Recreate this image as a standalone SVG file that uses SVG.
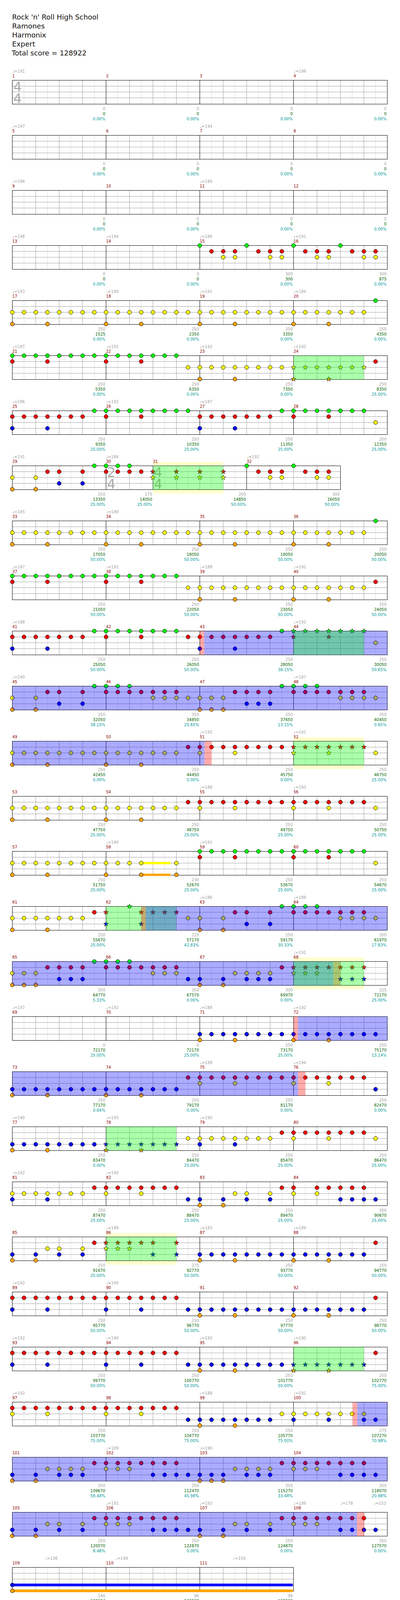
<svg xmlns="http://www.w3.org/2000/svg" width="1024" height="4153" viewBox="0 0 1024 4153">
<style>
text{font-family:"DejaVu Sans","Liberation Sans",sans-serif}
.h{font-size:18px;fill:#111}
.tp{font-size:10px;fill:#a0a0a0}
.mn{font-size:10px;fill:#8b0000}
.s1,.s2,.s3{font-size:10px;text-anchor:end}
.s1{fill:#a0a0a0}.s2{fill:#006400}.s3{fill:#009999}
.ts{font-size:34px;fill:#aaa}
.l8{stroke:#dcdcdc;fill:none}
.l4{stroke:#a0a0a0;fill:none}
.bar,.bd{stroke:#000;fill:none}
.nt{stroke:#000;stroke-width:1}
.ob{fill:#00f;fill-opacity:.33}
.og{fill:#0f0;fill-opacity:.33}
.op{fill:#f00;fill-opacity:.33}
.yb{fill:#ffc}
</style>
<defs>
<g id="m4"><path class="l8" d="M30 0V61M90 0V61M150 0V61M210 0V61"/><path class="l4" d="M60 0V61M120 0V61M180 0V61"/></g>
<g id="st4"><rect width="960" height="61" fill="#fff"/><use href="#m4"/><use href="#m4" x="240"/><use href="#m4" x="480"/><use href="#m4" x="720"/><path class="l4" d="M0 15H960M0 30H960M0 45H960"/><path class="bar" d="M240 0V61M480 0V61M720 0V61"/><rect class="bd" width="960" height="61"/></g>
<circle id="g" class="nt" r="5" fill="#00ff00"/>
<circle id="r" class="nt" cy="15" r="5" fill="#ff0000"/>
<circle id="y" class="nt" cy="30" r="5" fill="#ffff00"/>
<circle id="b" class="nt" cy="45" r="5" fill="#0000ff"/>
<circle id="o" class="nt" cy="60" r="5" fill="#ffa500"/>
<g id="g2"><use href="#g"/><use href="#g" x="30"/></g><g id="g4"><use href="#g2"/><use href="#g2" x="60"/></g><g id="g8"><use href="#g4"/><use href="#g4" x="120"/></g>
<g id="r2"><use href="#r"/><use href="#r" x="30"/></g><g id="r4"><use href="#r2"/><use href="#r2" x="60"/></g><g id="r8"><use href="#r4"/><use href="#r4" x="120"/></g>
<g id="y2"><use href="#y"/><use href="#y" x="30"/></g><g id="y4"><use href="#y2"/><use href="#y2" x="60"/></g><g id="y8"><use href="#y4"/><use href="#y4" x="120"/></g>
<g id="b2"><use href="#b"/><use href="#b" x="30"/></g><g id="b4"><use href="#b2"/><use href="#b2" x="60"/></g><g id="b8"><use href="#b4"/><use href="#b4" x="120"/></g>
<polygon id="S" points="0,-6.5 1.53,-2.1 6.18,-2.01 2.47,0.8 3.82,5.26 0,2.6 -3.82,5.26 -2.47,0.8 -6.18,-2.01 -1.53,-2.1" stroke="#000" stroke-width=".8"/>
<use id="sg" href="#S" fill="#00ff00"/>
<use id="sr" href="#S" y="15" fill="#ff0000"/>
<use id="sy" href="#S" y="30" fill="#ffff00"/>
<use id="sb" href="#S" y="45" fill="#0000ff"/>
<use id="so" href="#S" y="60" fill="#ffa500"/>
<g id="p17"><use href="#y8"/><use href="#y8" x="240"/><use href="#y8" x="480"/><use href="#y4" x="720"/><use href="#y2" x="840"/><use href="#y" x="900"/><use href="#g" x="930"/><use href="#o"/><use href="#o" x="90"/><use href="#o" x="240"/><use href="#o" x="330"/><use href="#o" x="480"/><use href="#o" x="570"/><use href="#o" x="720"/><use href="#o" x="810"/></g>
</defs>
<rect width="1024" height="4153" fill="#fff"/>
<g id="header">
<text class="h" x="31" y="49.5">Rock 'n' Roll High School</text>
<text class="h" x="31" y="72.5">Ramones</text>
<text class="h" x="31" y="95.5">Harmonix</text>
<text class="h" x="31" y="118.5">Expert</text>
<text class="h" x="30" y="141.5">Total score = 128922</text>
</g>

<g id="row1" transform="translate(31.5,205.5)">
<use href="#st4"/>
<text class="ts" x="2.5" y="28">4</text><text class="ts" x="2.5" y="58">4</text>
<text class="tp" x="0" y="-20">♩=191</text><text class="tp" x="720" y="-20">♩=186</text>
<text class="mn" x="0" y="-7.5">1</text><text class="mn" x="240" y="-7.5">2</text><text class="mn" x="480" y="-7.5">3</text><text class="mn" x="720" y="-7.5">4</text>
<text class="s1" x="238" y="76">0</text><text class="s2" x="238" y="89.5">0</text><text class="s3" x="238" y="102.5">0.00%</text>
<text class="s1" x="478" y="76">0</text><text class="s2" x="478" y="89.5">0</text><text class="s3" x="478" y="102.5">0.00%</text>
<text class="s1" x="718" y="76">0</text><text class="s2" x="718" y="89.5">0</text><text class="s3" x="718" y="102.5">0.00%</text>
<text class="s1" x="958" y="76">0</text><text class="s2" x="958" y="89.5">0</text><text class="s3" x="958" y="102.5">0.00%</text>
</g>

<g id="row5" transform="translate(31.5,346.5)">
<use href="#st4"/>
<text class="tp" x="0" y="-20">♩=197</text><text class="tp" x="480" y="-20">♩=194</text>
<text class="mn" x="0" y="-7.5">5</text><text class="mn" x="240" y="-7.5">6</text><text class="mn" x="480" y="-7.5">7</text><text class="mn" x="720" y="-7.5">8</text>
<text class="s1" x="238" y="76">0</text><text class="s2" x="238" y="89.5">0</text><text class="s3" x="238" y="102.5">0.00%</text>
<text class="s1" x="478" y="76">0</text><text class="s2" x="478" y="89.5">0</text><text class="s3" x="478" y="102.5">0.00%</text>
<text class="s1" x="718" y="76">0</text><text class="s2" x="718" y="89.5">0</text><text class="s3" x="718" y="102.5">0.00%</text>
<text class="s1" x="958" y="76">0</text><text class="s2" x="958" y="89.5">0</text><text class="s3" x="958" y="102.5">0.00%</text>
</g>

<g id="row9" transform="translate(31.5,487.5)">
<use href="#st4"/>
<text class="tp" x="0" y="-20">♩=196</text><text class="tp" x="480" y="-20">♩=189</text>
<text class="mn" x="0" y="-7.5">9</text><text class="mn" x="240" y="-7.5">10</text><text class="mn" x="480" y="-7.5">11</text><text class="mn" x="720" y="-7.5">12</text>
<text class="s1" x="238" y="76">0</text><text class="s2" x="238" y="89.5">0</text><text class="s3" x="238" y="102.5">0.00%</text>
<text class="s1" x="478" y="76">0</text><text class="s2" x="478" y="89.5">0</text><text class="s3" x="478" y="102.5">0.00%</text>
<text class="s1" x="718" y="76">0</text><text class="s2" x="718" y="89.5">0</text><text class="s3" x="718" y="102.5">0.00%</text>
<text class="s1" x="958" y="76">0</text><text class="s2" x="958" y="89.5">0</text><text class="s3" x="958" y="102.5">0.00%</text>
</g>

<g id="row13" transform="translate(31.5,628.5)">
<use href="#st4"/>
<use href="#g" x="480"/><use href="#g" x="600"/><use href="#g" x="720"/><use href="#g" x="840"/>
<use href="#r" x="510"/><use href="#r" x="540"/><use href="#r" x="570"/><use href="#r" x="630"/><use href="#r" x="660"/><use href="#r" x="690"/><use href="#r" x="750"/><use href="#r" x="780"/><use href="#r" x="810"/><use href="#r" x="870"/><use href="#r" x="900"/><use href="#r" x="930"/>
<use href="#y2" x="540"/><use href="#y2" x="660"/><use href="#y2" x="780"/><use href="#y2" x="900"/>
<text class="tp" x="0" y="-20">♩=198</text><text class="tp" x="240" y="-20">♩=194</text><text class="tp" x="480" y="-20">♩=186</text><text class="tp" x="720" y="-20">♩=191</text>
<text class="mn" x="0" y="-7.5">13</text><text class="mn" x="240" y="-7.5">14</text><text class="mn" x="480" y="-7.5">15</text><text class="mn" x="720" y="-7.5">16</text>
<text class="s1" x="238" y="76">0</text><text class="s2" x="238" y="89.5">0</text><text class="s3" x="238" y="102.5">0.00%</text>
<text class="s1" x="478" y="76">0</text><text class="s2" x="478" y="89.5">0</text><text class="s3" x="478" y="102.5">0.00%</text>
<text class="s1" x="718" y="76">300</text><text class="s2" x="718" y="89.5">300</text><text class="s3" x="718" y="102.5">0.00%</text>
<text class="s1" x="958" y="76">300</text><text class="s2" x="958" y="89.5">875</text><text class="s3" x="958" y="102.5">0.00%</text>
</g>

<g id="row17" transform="translate(31.5,769.5)">
<use href="#st4"/>
<use href="#p17"/>
<text class="tp" x="0" y="-20">♩=193</text><text class="tp" x="240" y="-20">♩=190</text><text class="tp" x="480" y="-20">♩=191</text><text class="tp" x="720" y="-20">♩=189</text>
<text class="mn" x="0" y="-7.5">17</text><text class="mn" x="240" y="-7.5">18</text><text class="mn" x="480" y="-7.5">19</text><text class="mn" x="720" y="-7.5">20</text>
<text class="s1" x="238" y="76">250</text><text class="s2" x="238" y="89.5">1525</text><text class="s3" x="238" y="102.5">0.00%</text>
<text class="s1" x="478" y="76">250</text><text class="s2" x="478" y="89.5">2350</text><text class="s3" x="478" y="102.5">0.00%</text>
<text class="s1" x="718" y="76">250</text><text class="s2" x="718" y="89.5">3350</text><text class="s3" x="718" y="102.5">0.00%</text>
<text class="s1" x="958" y="76">250</text><text class="s2" x="958" y="89.5">4350</text><text class="s3" x="958" y="102.5">0.00%</text>
</g>

<g id="row21" transform="translate(31.5,910.5)">
<use href="#st4"/>
<use href="#g8"/><use href="#g4" x="240"/><use href="#g2" x="360"/><use href="#g" x="420"/>
<use href="#r"/><use href="#r" x="90"/><use href="#r" x="240"/><use href="#r" x="330"/><use href="#r" x="930"/>
<use href="#y" x="450"/><use href="#y8" x="480"/>
<use href="#o" x="480"/><use href="#o" x="570"/>
<use href="#sy" x="720"/><use href="#sy" x="750"/><use href="#sy" x="780"/><use href="#sy" x="810"/><use href="#sy" x="840"/><use href="#sy" x="870"/><use href="#sy" x="900"/>
<use href="#so" x="720"/><use href="#so" x="810"/>
<rect class="og" x="720" width="180" height="61"/>
<text class="tp" x="0" y="-20">♩=187</text><text class="tp" x="240" y="-20">♩=191</text><text class="tp" x="480" y="-20">♩=192</text><text class="tp" x="720" y="-20">♩=193</text>
<text class="mn" x="0" y="-7.5">21</text><text class="mn" x="240" y="-7.5">22</text><text class="mn" x="480" y="-7.5">23</text><text class="mn" x="720" y="-7.5">24</text>
<text class="s1" x="238" y="76">250</text><text class="s2" x="238" y="89.5">5350</text><text class="s3" x="238" y="102.5">0.00%</text>
<text class="s1" x="478" y="76">250</text><text class="s2" x="478" y="89.5">6350</text><text class="s3" x="478" y="102.5">0.00%</text>
<text class="s1" x="718" y="76">250</text><text class="s2" x="718" y="89.5">7350</text><text class="s3" x="718" y="102.5">0.00%</text>
<text class="s1" x="958" y="76">250</text><text class="s2" x="958" y="89.5">8350</text><text class="s3" x="958" y="102.5">25.00%</text>
</g>

<g id="row25" transform="translate(31.5,1051.5)">
<use href="#st4"/>
<use href="#r4"/><use href="#r2" x="120"/><use href="#r" x="180"/><use href="#r" x="240"/><use href="#r" x="330"/><use href="#r4" x="480"/><use href="#r2" x="600"/><use href="#r" x="660"/><use href="#r" x="720"/><use href="#r" x="810"/>
<use href="#g" x="210"/><use href="#g8" x="240"/><use href="#g8" x="690"/>
<use href="#b"/><use href="#b" x="90"/><use href="#b" x="480"/><use href="#b" x="570"/>
<use href="#y" x="930"/>
<text class="tp" x="0" y="-20">♩=186</text><text class="tp" x="240" y="-20">♩=192</text><text class="tp" x="480" y="-20">♩=187</text>
<text class="mn" x="0" y="-7.5">25</text><text class="mn" x="240" y="-7.5">26</text><text class="mn" x="480" y="-7.5">27</text><text class="mn" x="720" y="-7.5">28</text>
<text class="s1" x="238" y="76">250</text><text class="s2" x="238" y="89.5">9350</text><text class="s3" x="238" y="102.5">25.00%</text>
<text class="s1" x="478" y="76">250</text><text class="s2" x="478" y="89.5">10350</text><text class="s3" x="478" y="102.5">25.00%</text>
<text class="s1" x="718" y="76">250</text><text class="s2" x="718" y="89.5">11350</text><text class="s3" x="718" y="102.5">25.00%</text>
<text class="s1" x="958" y="76">250</text><text class="s2" x="958" y="89.5">12350</text><text class="s3" x="958" y="102.5">25.00%</text>
</g>

<g id="row29" transform="translate(31.5,1192.5)">
<rect class="yb" x="360" y="-10" width="180" height="81"/>
<rect width="840" height="61" fill="#fff"/>
<use href="#m4"/>
<path class="l8" d="M270 0V61M330 0V61"/><path class="l4" d="M300 0V61"/>
<use href="#m4" x="360"/><use href="#m4" x="600"/>
<path class="l4" d="M0 15H840M0 30H840M0 45H840"/>
<path class="bar" d="M240 0V61M360 0V61M600 0V61"/>
<rect class="bd" width="840" height="61"/>
<text class="ts" x="242.5" y="28">2</text><text class="ts" x="242.5" y="58">4</text>
<text class="ts" x="362.5" y="28">4</text><text class="ts" x="362.5" y="58">4</text>
<use href="#y"/><use href="#y" x="60"/><use href="#o"/><use href="#o" x="60"/>
<use href="#r" x="90"/><use href="#r" x="120"/><use href="#r" x="180"/><use href="#r" x="240"/><use href="#r" x="270"/><use href="#r" x="300"/><use href="#r" x="330"/>
<use href="#b" x="120"/><use href="#b" x="180"/>
<use href="#g" x="210"/><use href="#g" x="240"/><use href="#g" x="270"/><use href="#g" x="300"/>
<use href="#sr" x="360"/><use href="#sr" x="420"/><use href="#sr" x="480"/><use href="#sr" x="540"/>
<use href="#sy" x="360"/><use href="#sy" x="420"/><use href="#sy" x="480"/><use href="#sy" x="540"/>
<use href="#g" x="600"/><use href="#g" x="720"/>
<use href="#r" x="630"/><use href="#r" x="660"/><use href="#r" x="690"/><use href="#r" x="750"/><use href="#r" x="780"/><use href="#r" x="810"/>
<use href="#y2" x="660"/><use href="#y2" x="780"/>
<rect class="og" x="360" width="180" height="61"/>
<text class="tp" x="0" y="-20">♩=191</text><text class="tp" x="240" y="-20">♩=184</text><text class="tp" x="600" y="-20">♩=192</text>
<text class="mn" x="0" y="-7.5">29</text><text class="mn" x="240" y="-7.5">30</text><text class="mn" x="360" y="-7.5">31</text><text class="mn" x="600" y="-7.5">32</text>
<text class="s1" x="238" y="76">250</text><text class="s2" x="238" y="89.5">13350</text><text class="s3" x="238" y="102.5">25.00%</text>
<text class="s1" x="358" y="76">175</text><text class="s2" x="358" y="89.5">14050</text><text class="s3" x="358" y="102.5">25.00%</text>
<text class="s1" x="598" y="76">200</text><text class="s2" x="598" y="89.5">14850</text><text class="s3" x="598" y="102.5">50.00%</text>
<text class="s1" x="838" y="76">300</text><text class="s2" x="838" y="89.5">16050</text><text class="s3" x="838" y="102.5">50.00%</text>
</g>

<g id="row33" transform="translate(31.5,1333.5)">
<use href="#st4"/>
<use href="#p17"/>
<text class="tp" x="0" y="-20">♩=185</text><text class="tp" x="240" y="-20">♩=189</text>
<text class="mn" x="0" y="-7.5">33</text><text class="mn" x="240" y="-7.5">34</text><text class="mn" x="480" y="-7.5">35</text><text class="mn" x="720" y="-7.5">36</text>
<text class="s1" x="238" y="76">250</text><text class="s2" x="238" y="89.5">17050</text><text class="s3" x="238" y="102.5">50.00%</text>
<text class="s1" x="478" y="76">250</text><text class="s2" x="478" y="89.5">18050</text><text class="s3" x="478" y="102.5">50.00%</text>
<text class="s1" x="718" y="76">250</text><text class="s2" x="718" y="89.5">19050</text><text class="s3" x="718" y="102.5">50.00%</text>
<text class="s1" x="958" y="76">250</text><text class="s2" x="958" y="89.5">20050</text><text class="s3" x="958" y="102.5">50.00%</text>
</g>

<g id="row37" transform="translate(31.5,1474.5)">
<use href="#st4"/>
<use href="#g8"/><use href="#g4" x="240"/><use href="#g2" x="360"/><use href="#g" x="420"/>
<use href="#r"/><use href="#r" x="90"/><use href="#r" x="240"/><use href="#r" x="330"/><use href="#r" x="930"/>
<use href="#y" x="450"/><use href="#y8" x="480"/><use href="#y4" x="720"/><use href="#y2" x="840"/><use href="#y" x="900"/>
<use href="#o" x="480"/><use href="#o" x="570"/><use href="#o" x="720"/><use href="#o" x="810"/>
<text class="tp" x="0" y="-20">♩=187</text><text class="tp" x="240" y="-20">♩=192</text><text class="tp" x="480" y="-20">♩=188</text><text class="tp" x="720" y="-20">♩=192</text>
<text class="mn" x="0" y="-7.5">37</text><text class="mn" x="240" y="-7.5">38</text><text class="mn" x="480" y="-7.5">39</text><text class="mn" x="720" y="-7.5">40</text>
<text class="s1" x="238" y="76">250</text><text class="s2" x="238" y="89.5">21050</text><text class="s3" x="238" y="102.5">50.00%</text>
<text class="s1" x="478" y="76">250</text><text class="s2" x="478" y="89.5">22050</text><text class="s3" x="478" y="102.5">50.00%</text>
<text class="s1" x="718" y="76">250</text><text class="s2" x="718" y="89.5">23050</text><text class="s3" x="718" y="102.5">50.00%</text>
<text class="s1" x="958" y="76">250</text><text class="s2" x="958" y="89.5">24050</text><text class="s3" x="958" y="102.5">50.00%</text>
</g>

<g id="row41" transform="translate(31.5,1615.5)">
<use href="#st4"/>
<use href="#r4"/><use href="#r2" x="120"/><use href="#r" x="180"/><use href="#r" x="240"/><use href="#r" x="330"/><use href="#r" x="450"/><use href="#r" x="480"/><use href="#r4" x="510"/><use href="#r2" x="630"/>
<use href="#b"/><use href="#b" x="90"/><use href="#b" x="480"/><use href="#b" x="570"/>
<use href="#g8" x="210"/><use href="#g" x="690"/>
<use href="#sg" x="720"/><use href="#sg" x="750"/><use href="#sg" x="780"/><use href="#sg" x="810"/><use href="#sg" x="840"/><use href="#sg" x="870"/><use href="#sg" x="900"/>
<use href="#sr" x="720"/><use href="#sr" x="810"/>
<use href="#y" x="930"/>
<rect class="op" x="480" width="11.5" height="61"/>
<rect class="ob" x="491.5" width="468.5" height="61"/>
<rect class="og" x="720" width="180" height="61"/>
<text class="tp" x="0" y="-20">♩=188</text><text class="tp" x="720" y="-20">♩=192</text>
<text class="mn" x="0" y="-7.5">41</text><text class="mn" x="240" y="-7.5">42</text><text class="mn" x="480" y="-7.5">43</text><text class="mn" x="720" y="-7.5">44</text>
<text class="s1" x="238" y="76">250</text><text class="s2" x="238" y="89.5">25050</text><text class="s3" x="238" y="102.5">50.00%</text>
<text class="s1" x="478" y="76">250</text><text class="s2" x="478" y="89.5">26050</text><text class="s3" x="478" y="102.5">50.00%</text>
<text class="s1" x="718" y="76">250</text><text class="s2" x="718" y="89.5">28050</text><text class="s3" x="718" y="102.5">38.15%</text>
<text class="s1" x="958" y="76">250</text><text class="s2" x="958" y="89.5">30050</text><text class="s3" x="958" y="102.5">50.65%</text>
</g>

<g id="row45" transform="translate(31.5,1756.5)">
<use href="#st4"/>
<use href="#g" x="210"/><use href="#g" x="240"/><use href="#g" x="270"/><use href="#g" x="300"/><use href="#g" x="690"/><use href="#g" x="720"/><use href="#g" x="750"/><use href="#g" x="780"/>
<use href="#r" x="90"/><use href="#r" x="120"/><use href="#r" x="180"/><use href="#r4" x="240"/><use href="#r2" x="360"/><use href="#r" x="420"/><use href="#r4" x="570"/><use href="#r4" x="720"/><use href="#r2" x="840"/><use href="#r" x="900"/>
<use href="#y"/><use href="#y" x="60"/><use href="#y4" x="360"/><use href="#y2" x="480"/><use href="#y" x="540"/><use href="#y4" x="840"/>
<use href="#b" x="120"/><use href="#b" x="180"/><use href="#b" x="600"/><use href="#b" x="630"/><use href="#b" x="660"/>
<use href="#o"/><use href="#o" x="60"/><use href="#o" x="480"/><use href="#o" x="510"/><use href="#o" x="540"/>
<rect class="ob" width="960" height="61"/>
<text class="tp" x="0" y="-20">♩=190</text><text class="tp" x="720" y="-20">♩=187</text>
<text class="mn" x="0" y="-7.5">45</text><text class="mn" x="240" y="-7.5">46</text><text class="mn" x="480" y="-7.5">47</text><text class="mn" x="720" y="-7.5">48</text>
<text class="s1" x="238" y="76">250</text><text class="s2" x="238" y="89.5">32050</text><text class="s3" x="238" y="102.5">38.15%</text>
<text class="s1" x="478" y="76">350</text><text class="s2" x="478" y="89.5">34850</text><text class="s3" x="478" y="102.5">25.65%</text>
<text class="s1" x="718" y="76">350</text><text class="s2" x="718" y="89.5">37650</text><text class="s3" x="718" y="102.5">13.15%</text>
<text class="s1" x="958" y="76">350</text><text class="s2" x="958" y="89.5">40450</text><text class="s3" x="958" y="102.5">0.65%</text>
</g>

<g id="row49" transform="translate(31.5,1897.5)">
<rect class="yb" x="720" y="-10" width="180" height="81"/>
<use href="#st4"/>
<use href="#y8"/><use href="#y4" x="240"/><use href="#y2" x="360"/><use href="#y" x="420"/><use href="#y" x="480"/><use href="#y" x="570"/><use href="#y" x="930"/>
<use href="#r" x="450"/><use href="#r" x="480"/><use href="#r4" x="510"/><use href="#r2" x="630"/><use href="#r" x="690"/>
<use href="#sr" x="720"/><use href="#sr" x="750"/><use href="#sr" x="780"/><use href="#sr" x="810"/><use href="#sr" x="840"/><use href="#sr" x="870"/><use href="#sr" x="900"/>
<use href="#sy" x="720"/><use href="#sy" x="810"/>
<use href="#o"/><use href="#o" x="90"/><use href="#o" x="240"/><use href="#o" x="330"/>
<rect class="ob" width="492" height="61"/>
<rect class="op" x="492" width="18" height="61"/>
<rect class="og" x="720" width="180" height="61"/>
<text class="tp" x="480" y="-20">♩=192</text><text class="tp" x="720" y="-20">♩=191</text>
<text class="mn" x="0" y="-7.5">49</text><text class="mn" x="240" y="-7.5">50</text><text class="mn" x="480" y="-7.5">51</text><text class="mn" x="720" y="-7.5">52</text>
<text class="s1" x="238" y="76">250</text><text class="s2" x="238" y="89.5">42450</text><text class="s3" x="238" y="102.5">0.00%</text>
<text class="s1" x="478" y="76">250</text><text class="s2" x="478" y="89.5">44450</text><text class="s3" x="478" y="102.5">0.00%</text>
<text class="s1" x="718" y="76">250</text><text class="s2" x="718" y="89.5">45750</text><text class="s3" x="718" y="102.5">0.00%</text>
<text class="s1" x="958" y="76">250</text><text class="s2" x="958" y="89.5">46750</text><text class="s3" x="958" y="102.5">25.00%</text>
</g>

<g id="row53" transform="translate(31.5,2038.5)">
<use href="#st4"/>
<use href="#y8"/><use href="#y4" x="240"/><use href="#y2" x="360"/><use href="#y" x="420"/><use href="#y" x="480"/><use href="#y" x="570"/><use href="#y" x="720"/><use href="#y" x="810"/><use href="#y" x="930"/>
<use href="#r" x="450"/><use href="#r8" x="480"/><use href="#r4" x="720"/><use href="#r2" x="840"/><use href="#r" x="900"/>
<use href="#o"/><use href="#o" x="90"/><use href="#o" x="240"/><use href="#o" x="330"/>
<text class="tp" x="480" y="-20">♩=188</text><text class="tp" x="720" y="-20">♩=193</text>
<text class="mn" x="0" y="-7.5">53</text><text class="mn" x="240" y="-7.5">54</text><text class="mn" x="480" y="-7.5">55</text><text class="mn" x="720" y="-7.5">56</text>
<text class="s1" x="238" y="76">250</text><text class="s2" x="238" y="89.5">47750</text><text class="s3" x="238" y="102.5">25.00%</text>
<text class="s1" x="478" y="76">250</text><text class="s2" x="478" y="89.5">48750</text><text class="s3" x="478" y="102.5">25.00%</text>
<text class="s1" x="718" y="76">250</text><text class="s2" x="718" y="89.5">49750</text><text class="s3" x="718" y="102.5">25.00%</text>
<text class="s1" x="958" y="76">250</text><text class="s2" x="958" y="89.5">50750</text><text class="s3" x="958" y="102.5">25.00%</text>
</g>

<g id="row57" transform="translate(31.5,2179.5)">
<use href="#st4"/>
<rect x="330" y="27" width="75" height="6" fill="#ff0"/>
<rect x="330" y="57" width="75" height="6" fill="#ffa500"/>
<use href="#y8"/><use href="#y4" x="240"/><use href="#y" x="420"/><use href="#y" x="930"/>
<use href="#o"/><use href="#o" x="90"/><use href="#o" x="240"/><use href="#o" x="330"/><use href="#o" x="420"/>
<use href="#g8" x="480"/><use href="#g4" x="720"/><use href="#g2" x="840"/><use href="#g" x="900"/>
<use href="#r" x="480"/><use href="#r" x="570"/><use href="#r" x="720"/><use href="#r" x="810"/>
<text class="tp" x="240" y="-20">♩=190</text><text class="tp" x="480" y="-20">♩=191</text>
<text class="mn" x="0" y="-7.5">57</text><text class="mn" x="240" y="-7.5">58</text><text class="mn" x="480" y="-7.5">59</text><text class="mn" x="720" y="-7.5">60</text>
<text class="s1" x="238" y="76">250</text><text class="s2" x="238" y="89.5">51750</text><text class="s3" x="238" y="102.5">25.00%</text>
<text class="s1" x="478" y="76">230</text><text class="s2" x="478" y="89.5">52670</text><text class="s3" x="478" y="102.5">25.00%</text>
<text class="s1" x="718" y="76">250</text><text class="s2" x="718" y="89.5">53670</text><text class="s3" x="718" y="102.5">25.00%</text>
<text class="s1" x="958" y="76">250</text><text class="s2" x="958" y="89.5">54670</text><text class="s3" x="958" y="102.5">25.00%</text>
</g>

<g id="row61" transform="translate(31.5,2320.5)">
<use href="#st4"/>
<use href="#y4"/><use href="#y2" x="120"/><use href="#y" x="180"/>
<use href="#r" x="210"/><use href="#o"/><use href="#o" x="90"/>
<use href="#sr" x="240"/><use href="#sr" x="330"/><use href="#sr" x="360"/><use href="#sr" x="390"/><use href="#sr" x="420"/>
<use href="#sb" x="240"/><use href="#sb" x="330"/><use href="#sg" x="300"/>
<use href="#y" x="450"/><use href="#y" x="480"/><use href="#y" x="540"/><use href="#y4" x="840"/>
<use href="#r" x="570"/><use href="#r" x="600"/><use href="#r" x="660"/><use href="#r4" x="720"/><use href="#r2" x="840"/><use href="#r" x="900"/>
<use href="#b" x="600"/><use href="#b" x="660"/>
<use href="#g4" x="690"/>
<use href="#o" x="480"/><use href="#o" x="540"/>
<rect class="og" x="240" width="180" height="61"/>
<rect class="op" x="330" width="11.5" height="61"/>
<rect class="ob" x="341.5" width="618.5" height="61"/>
<text class="tp" x="480" y="-20">♩=186</text><text class="tp" x="720" y="-20">♩=189</text>
<text class="mn" x="0" y="-7.5">61</text><text class="mn" x="240" y="-7.5">62</text><text class="mn" x="480" y="-7.5">63</text><text class="mn" x="720" y="-7.5">64</text>
<text class="s1" x="238" y="76">250</text><text class="s2" x="238" y="89.5">55670</text><text class="s3" x="238" y="102.5">25.00%</text>
<text class="s1" x="478" y="76">225</text><text class="s2" x="478" y="89.5">57170</text><text class="s3" x="478" y="102.5">42.83%</text>
<text class="s1" x="718" y="76">250</text><text class="s2" x="718" y="89.5">59170</text><text class="s3" x="718" y="102.5">30.33%</text>
<text class="s1" x="958" y="76">350</text><text class="s2" x="958" y="89.5">61970</text><text class="s3" x="958" y="102.5">17.83%</text>
</g>

<g id="row65" transform="translate(31.5,2461.5)">
<rect class="yb" x="720" y="-10" width="180" height="81"/>
<use href="#st4"/>
<use href="#g" x="210"/><use href="#g" x="240"/><use href="#g" x="270"/><use href="#g" x="300"/>
<use href="#r" x="90"/><use href="#r" x="120"/><use href="#r" x="150"/><use href="#r" x="180"/><use href="#r4" x="240"/><use href="#r2" x="360"/><use href="#r" x="420"/><use href="#r" x="690"/>
<use href="#y"/><use href="#y" x="30"/><use href="#y" x="60"/><use href="#y" x="360"/><use href="#y" x="390"/><use href="#y" x="420"/><use href="#y4" x="570"/>
<use href="#b" x="120"/><use href="#b" x="150"/><use href="#b" x="180"/><use href="#b" x="450"/><use href="#b" x="480"/><use href="#b" x="540"/><use href="#b" x="600"/><use href="#b" x="630"/><use href="#b" x="660"/>
<use href="#o"/><use href="#o" x="30"/><use href="#o" x="60"/><use href="#o" x="480"/><use href="#o" x="540"/>
<use href="#sr" x="720"/><use href="#sr" x="750"/><use href="#sr" x="780"/><use href="#sr" x="810"/><use href="#sr" x="840"/><use href="#sr" x="870"/><use href="#sr" x="900"/>
<use href="#sy" x="720"/><use href="#sy" x="750"/><use href="#sy" x="780"/>
<use href="#sb" x="840"/><use href="#sb" x="870"/><use href="#sb" x="900"/>
<rect class="ob" width="822" height="61"/>
<rect class="op" x="822" width="18" height="61"/>
<rect class="og" x="720" width="180" height="61"/>
<text class="tp" x="720" y="-20">♩=191</text>
<text class="mn" x="0" y="-7.5">65</text><text class="mn" x="240" y="-7.5">66</text><text class="mn" x="480" y="-7.5">67</text><text class="mn" x="720" y="-7.5">68</text>
<text class="s1" x="238" y="76">350</text><text class="s2" x="238" y="89.5">64770</text><text class="s3" x="238" y="102.5">5.33%</text>
<text class="s1" x="478" y="76">350</text><text class="s2" x="478" y="89.5">67570</text><text class="s3" x="478" y="102.5">0.00%</text>
<text class="s1" x="718" y="76">300</text><text class="s2" x="718" y="89.5">69970</text><text class="s3" x="718" y="102.5">0.00%</text>
<text class="s1" x="958" y="76">325</text><text class="s2" x="958" y="89.5">72170</text><text class="s3" x="958" y="102.5">25.00%</text>
</g>

<g id="row69" transform="translate(31.5,2602.5)">
<use href="#st4"/>
<use href="#b8" x="480"/><use href="#b8" x="720"/>
<use href="#o" x="480"/><use href="#o" x="570"/><use href="#o" x="720"/><use href="#o" x="810"/>
<rect class="op" x="720" width="11.5" height="61"/>
<rect class="ob" x="731.5" width="228.5" height="61"/>
<text class="tp" x="0" y="-20">♩=197</text><text class="tp" x="240" y="-20">♩=192</text><text class="tp" x="480" y="-20">♩=188</text><text class="tp" x="720" y="-20">♩=192</text>
<text class="mn" x="0" y="-7.5">69</text><text class="mn" x="240" y="-7.5">70</text><text class="mn" x="480" y="-7.5">71</text><text class="mn" x="720" y="-7.5">72</text>
<text class="s1" x="238" y="76">0</text><text class="s2" x="238" y="89.5">72170</text><text class="s3" x="238" y="102.5">25.00%</text>
<text class="s1" x="478" y="76">0</text><text class="s2" x="478" y="89.5">72170</text><text class="s3" x="478" y="102.5">25.00%</text>
<text class="s1" x="718" y="76">250</text><text class="s2" x="718" y="89.5">73170</text><text class="s3" x="718" y="102.5">25.00%</text>
<text class="s1" x="958" y="76">250</text><text class="s2" x="958" y="89.5">75170</text><text class="s3" x="958" y="102.5">13.14%</text>
</g>

<g id="row73" transform="translate(31.5,2743.5)">
<use href="#st4"/>
<use href="#b8"/><use href="#b4" x="240"/><use href="#b2" x="360"/><use href="#b" x="420"/><use href="#b" x="930"/>
<use href="#o"/><use href="#o" x="90"/><use href="#o" x="240"/><use href="#o" x="330"/>
<use href="#r" x="450"/><use href="#r8" x="480"/><use href="#r4" x="720"/><use href="#r2" x="840"/><use href="#r" x="900"/>
<use href="#y" x="480"/><use href="#y" x="570"/><use href="#y" x="720"/><use href="#y" x="810"/>
<rect class="ob" width="731.5" height="61"/>
<rect class="op" x="731.5" width="18.5" height="61"/>
<text class="tp" x="480" y="-20">♩=189</text><text class="tp" x="720" y="-20">♩=194</text>
<text class="mn" x="0" y="-7.5">73</text><text class="mn" x="240" y="-7.5">74</text><text class="mn" x="480" y="-7.5">75</text><text class="mn" x="720" y="-7.5">76</text>
<text class="s1" x="238" y="76">250</text><text class="s2" x="238" y="89.5">77170</text><text class="s3" x="238" y="102.5">0.64%</text>
<text class="s1" x="478" y="76">250</text><text class="s2" x="478" y="89.5">79170</text><text class="s3" x="478" y="102.5">0.00%</text>
<text class="s1" x="718" y="76">250</text><text class="s2" x="718" y="89.5">81170</text><text class="s3" x="718" y="102.5">0.00%</text>
<text class="s1" x="958" y="76">250</text><text class="s2" x="958" y="89.5">82470</text><text class="s3" x="958" y="102.5">0.00%</text>
</g>

<g id="row77" transform="translate(31.5,2884.5)">
<use href="#st4"/>
<use href="#b8"/>
<use href="#sb" x="240"/><use href="#sb" x="270"/><use href="#sb" x="300"/><use href="#sb" x="330"/><use href="#sb" x="360"/><use href="#sb" x="390"/><use href="#sb" x="420"/>
<use href="#b" x="480"/><use href="#b" x="570"/>
<use href="#o"/><use href="#o" x="90"/><use href="#so" x="240"/><use href="#so" x="330"/>
<use href="#y" x="450"/><use href="#y4" x="480"/><use href="#y2" x="600"/><use href="#y" x="660"/><use href="#y" x="720"/><use href="#y" x="810"/><use href="#y" x="930"/>
<use href="#r" x="690"/><use href="#r4" x="720"/><use href="#r2" x="840"/><use href="#r" x="900"/>
<rect class="og" x="240" width="180" height="61"/>
<text class="tp" x="0" y="-20">♩=190</text><text class="tp" x="240" y="-20">♩=193</text><text class="tp" x="480" y="-20">♩=190</text>
<text class="mn" x="0" y="-7.5">77</text><text class="mn" x="240" y="-7.5">78</text><text class="mn" x="480" y="-7.5">79</text><text class="mn" x="720" y="-7.5">80</text>
<text class="s1" x="238" y="76">250</text><text class="s2" x="238" y="89.5">83470</text><text class="s3" x="238" y="102.5">0.00%</text>
<text class="s1" x="478" y="76">250</text><text class="s2" x="478" y="89.5">84470</text><text class="s3" x="478" y="102.5">25.00%</text>
<text class="s1" x="718" y="76">250</text><text class="s2" x="718" y="89.5">85470</text><text class="s3" x="718" y="102.5">25.00%</text>
<text class="s1" x="958" y="76">250</text><text class="s2" x="958" y="89.5">86470</text><text class="s3" x="958" y="102.5">25.00%</text>
</g>

<g id="row81" transform="translate(31.5,3025.5)">
<use href="#st4"/>
<use href="#y4"/><use href="#y2" x="120"/><use href="#y" x="180"/><use href="#y" x="240"/><use href="#y" x="330"/><use href="#y" x="570"/><use href="#y" x="600"/><use href="#y" x="660"/><use href="#y" x="720"/><use href="#y" x="780"/>
<use href="#r8" x="210"/><use href="#r" x="690"/><use href="#r" x="720"/><use href="#r" x="780"/><use href="#r" x="810"/><use href="#r" x="840"/><use href="#r" x="870"/><use href="#r" x="900"/>
<use href="#b"/><use href="#b" x="90"/><use href="#b" x="450"/><use href="#b" x="480"/><use href="#b" x="540"/><use href="#b" x="600"/><use href="#b" x="660"/><use href="#b" x="840"/><use href="#b" x="870"/><use href="#b" x="900"/><use href="#b" x="930"/>
<use href="#o" x="480"/><use href="#o" x="540"/>
<text class="tp" x="0" y="-20">♩=192</text><text class="tp" x="240" y="-20">♩=190</text>
<text class="mn" x="0" y="-7.5">81</text><text class="mn" x="240" y="-7.5">82</text><text class="mn" x="480" y="-7.5">83</text><text class="mn" x="720" y="-7.5">84</text>
<text class="s1" x="238" y="76">250</text><text class="s2" x="238" y="89.5">87470</text><text class="s3" x="238" y="102.5">25.00%</text>
<text class="s1" x="478" y="76">250</text><text class="s2" x="478" y="89.5">88470</text><text class="s3" x="478" y="102.5">25.00%</text>
<text class="s1" x="718" y="76">250</text><text class="s2" x="718" y="89.5">89470</text><text class="s3" x="718" y="102.5">25.00%</text>
<text class="s1" x="958" y="76">300</text><text class="s2" x="958" y="89.5">90670</text><text class="s3" x="958" y="102.5">25.00%</text>
</g>

<g id="row85" transform="translate(31.5,3166.5)">
<rect class="yb" x="240" y="-10" width="180" height="81"/>
<use href="#st4"/>
<use href="#b"/><use href="#b" x="60"/><use href="#b" x="120"/><use href="#b" x="180"/>
<use href="#o"/><use href="#o" x="60"/>
<use href="#y" x="90"/><use href="#y" x="120"/><use href="#y" x="180"/>
<use href="#r" x="210"/>
<use href="#sr" x="240"/><use href="#sr" x="270"/><use href="#sr" x="300"/><use href="#sr" x="330"/><use href="#sr" x="360"/><use href="#sr" x="420"/>
<use href="#sy" x="240"/><use href="#sy" x="270"/><use href="#sy" x="300"/>
<use href="#sb" x="360"/><use href="#sb" x="420"/>
<use href="#b8" x="480"/><use href="#b4" x="720"/><use href="#b2" x="840"/><use href="#b" x="900"/>
<use href="#o" x="480"/><use href="#o" x="570"/><use href="#o" x="720"/><use href="#o" x="810"/>
<use href="#r" x="930"/>
<rect class="og" x="240" width="180" height="61"/>
<text class="tp" x="240" y="-20">♩=189</text><text class="tp" x="480" y="-20">♩=183</text><text class="tp" x="720" y="-20">♩=189</text>
<text class="mn" x="0" y="-7.5">85</text><text class="mn" x="240" y="-7.5">86</text><text class="mn" x="480" y="-7.5">87</text><text class="mn" x="720" y="-7.5">88</text>
<text class="s1" x="238" y="76">250</text><text class="s2" x="238" y="89.5">91670</text><text class="s3" x="238" y="102.5">25.00%</text>
<text class="s1" x="478" y="76">275</text><text class="s2" x="478" y="89.5">92770</text><text class="s3" x="478" y="102.5">50.00%</text>
<text class="s1" x="718" y="76">250</text><text class="s2" x="718" y="89.5">93770</text><text class="s3" x="718" y="102.5">50.00%</text>
<text class="s1" x="958" y="76">250</text><text class="s2" x="958" y="89.5">94770</text><text class="s3" x="958" y="102.5">50.00%</text>
</g>

<g id="row89" transform="translate(31.5,3307.5)">
<use href="#st4"/>
<use href="#r8"/><use href="#r4" x="240"/><use href="#r2" x="360"/><use href="#r" x="420"/><use href="#r" x="930"/>
<use href="#b"/><use href="#b" x="90"/><use href="#b" x="240"/><use href="#b" x="330"/><use href="#b" x="450"/><use href="#b8" x="480"/><use href="#b4" x="720"/><use href="#b2" x="840"/><use href="#b" x="900"/>
<use href="#o" x="480"/><use href="#o" x="570"/><use href="#o" x="720"/><use href="#o" x="810"/>
<text class="tp" x="0" y="-20">♩=192</text><text class="tp" x="240" y="-20">♩=190</text>
<text class="mn" x="0" y="-7.5">89</text><text class="mn" x="240" y="-7.5">90</text><text class="mn" x="480" y="-7.5">91</text><text class="mn" x="720" y="-7.5">92</text>
<text class="s1" x="238" y="76">250</text><text class="s2" x="238" y="89.5">95770</text><text class="s3" x="238" y="102.5">50.00%</text>
<text class="s1" x="478" y="76">250</text><text class="s2" x="478" y="89.5">96770</text><text class="s3" x="478" y="102.5">50.00%</text>
<text class="s1" x="718" y="76">250</text><text class="s2" x="718" y="89.5">97770</text><text class="s3" x="718" y="102.5">50.00%</text>
<text class="s1" x="958" y="76">250</text><text class="s2" x="958" y="89.5">98770</text><text class="s3" x="958" y="102.5">50.00%</text>
</g>

<g id="row93" transform="translate(31.5,3448.5)">
<use href="#st4"/>
<use href="#r8"/><use href="#r4" x="240"/><use href="#r2" x="360"/><use href="#r" x="420"/><use href="#r" x="930"/>
<use href="#b"/><use href="#b" x="90"/><use href="#b" x="240"/><use href="#b" x="330"/><use href="#b" x="450"/><use href="#b8" x="480"/>
<use href="#sb" x="720"/><use href="#sb" x="750"/><use href="#sb" x="780"/><use href="#sb" x="810"/><use href="#sb" x="840"/><use href="#sb" x="870"/><use href="#sb" x="900"/>
<use href="#o" x="480"/><use href="#o" x="570"/><use href="#so" x="720"/><use href="#so" x="810"/>
<rect class="og" x="720" width="180" height="61"/>
<text class="tp" x="0" y="-20">♩=192</text><text class="tp" x="240" y="-20">♩=190</text><text class="tp" x="480" y="-20">♩=192</text><text class="tp" x="720" y="-20">♩=190</text>
<text class="mn" x="0" y="-7.5">93</text><text class="mn" x="240" y="-7.5">94</text><text class="mn" x="480" y="-7.5">95</text><text class="mn" x="720" y="-7.5">96</text>
<text class="s1" x="238" y="76">250</text><text class="s2" x="238" y="89.5">99770</text><text class="s3" x="238" y="102.5">50.00%</text>
<text class="s1" x="478" y="76">250</text><text class="s2" x="478" y="89.5">100770</text><text class="s3" x="478" y="102.5">50.00%</text>
<text class="s1" x="718" y="76">250</text><text class="s2" x="718" y="89.5">101770</text><text class="s3" x="718" y="102.5">50.00%</text>
<text class="s1" x="958" y="76">250</text><text class="s2" x="958" y="89.5">102770</text><text class="s3" x="958" y="102.5">75.00%</text>
</g>

<g id="row97" transform="translate(31.5,3589.5)">
<use href="#st4"/>
<use href="#r8"/><use href="#r4" x="240"/><use href="#r2" x="360"/><use href="#r" x="420"/>
<use href="#y"/><use href="#y" x="90"/><use href="#y" x="240"/><use href="#y" x="330"/><use href="#y" x="690"/><use href="#y4" x="720"/><use href="#y2" x="840"/><use href="#y" x="900"/>
<use href="#b" x="450"/><use href="#b4" x="480"/><use href="#b2" x="600"/><use href="#b" x="660"/><use href="#b" x="720"/><use href="#b" x="810"/><use href="#b" x="900"/><use href="#b" x="930"/>
<use href="#o" x="480"/><use href="#o" x="570"/>
<rect class="op" x="871" width="12" height="61"/>
<rect class="ob" x="883" width="77" height="61"/>
<text class="tp" x="0" y="-20">♩=192</text><text class="tp" x="480" y="-20">♩=188</text><text class="tp" x="720" y="-20">♩=191</text>
<text class="mn" x="0" y="-7.5">97</text><text class="mn" x="240" y="-7.5">98</text><text class="mn" x="480" y="-7.5">99</text><text class="mn" x="720" y="-7.5">100</text>
<text class="s1" x="238" y="76">250</text><text class="s2" x="238" y="89.5">103770</text><text class="s3" x="238" y="102.5">75.00%</text>
<text class="s1" x="478" y="76">250</text><text class="s2" x="478" y="89.5">104770</text><text class="s3" x="478" y="102.5">75.00%</text>
<text class="s1" x="718" y="76">250</text><text class="s2" x="718" y="89.5">105770</text><text class="s3" x="718" y="102.5">75.00%</text>
<text class="s1" x="958" y="76">275</text><text class="s2" x="958" y="89.5">107270</text><text class="s3" x="958" y="102.5">70.98%</text>
</g>

<g id="row101" transform="translate(31.5,3730.5)">
<use href="#st4"/>
<use href="#r8" x="210"/><use href="#r" x="690"/><use href="#r4" x="720"/><use href="#r2" x="840"/><use href="#r" x="900"/>
<use href="#y4" x="90"/><use href="#y" x="240"/><use href="#y" x="270"/><use href="#y" x="300"/><use href="#y4" x="570"/><use href="#y" x="720"/><use href="#y" x="750"/><use href="#y" x="780"/>
<use href="#b"/><use href="#b" x="60"/><use href="#b" x="120"/><use href="#b" x="150"/><use href="#b" x="180"/><use href="#b4" x="360"/><use href="#b2" x="480"/><use href="#b" x="540"/><use href="#b" x="600"/><use href="#b" x="630"/><use href="#b" x="660"/><use href="#b4" x="840"/>
<use href="#o"/><use href="#o" x="60"/><use href="#o" x="480"/><use href="#o" x="510"/><use href="#o" x="540"/>
<rect class="ob" width="960" height="61"/>
<text class="tp" x="240" y="-20">♩=189</text><text class="tp" x="480" y="-20">♩=190</text>
<text class="mn" x="0" y="-7.5">101</text><text class="mn" x="240" y="-7.5">102</text><text class="mn" x="480" y="-7.5">103</text><text class="mn" x="720" y="-7.5">104</text>
<text class="s1" x="238" y="76">300</text><text class="s2" x="238" y="89.5">109670</text><text class="s3" x="238" y="102.5">58.48%</text>
<text class="s1" x="478" y="76">350</text><text class="s2" x="478" y="89.5">112470</text><text class="s3" x="478" y="102.5">45.98%</text>
<text class="s1" x="718" y="76">350</text><text class="s2" x="718" y="89.5">115270</text><text class="s3" x="718" y="102.5">33.48%</text>
<text class="s1" x="958" y="76">350</text><text class="s2" x="958" y="89.5">118070</text><text class="s3" x="958" y="102.5">20.98%</text>
</g>

<g id="row105" transform="translate(31.5,3871.5)">
<use href="#st4"/>
<use href="#r8" x="210"/><use href="#r" x="690"/><use href="#r4" x="720"/><use href="#r2" x="840"/><use href="#r" x="900"/>
<use href="#y" x="90"/><use href="#y" x="120"/><use href="#y" x="180"/><use href="#y" x="240"/><use href="#y" x="270"/><use href="#y" x="300"/><use href="#y" x="570"/><use href="#y" x="600"/><use href="#y" x="660"/><use href="#y" x="720"/><use href="#y" x="750"/><use href="#y" x="780"/>
<use href="#b"/><use href="#b" x="60"/><use href="#b" x="120"/><use href="#b" x="180"/><use href="#b4" x="360"/><use href="#b" x="480"/><use href="#b" x="540"/><use href="#b" x="600"/><use href="#b" x="660"/><use href="#b4" x="840"/>
<use href="#o"/><use href="#o" x="60"/><use href="#o" x="480"/><use href="#o" x="540"/>
<rect class="ob" width="882.5" height="61"/>
<rect class="op" x="882.5" width="18.5" height="61"/>
<text class="tp" x="240" y="-20">♩=191</text><text class="tp" x="480" y="-20">♩=192</text><text class="tp" x="720" y="-20">♩=189</text><text class="tp" x="840" y="-20">♩=178</text><text class="tp" x="925" y="-20">♩=152</text>
<text class="mn" x="0" y="-7.5">105</text><text class="mn" x="240" y="-7.5">106</text><text class="mn" x="480" y="-7.5">107</text><text class="mn" x="720" y="-7.5">108</text>
<text class="s1" x="238" y="76">250</text><text class="s2" x="238" y="89.5">120070</text><text class="s3" x="238" y="102.5">8.48%</text>
<text class="s1" x="478" y="76">350</text><text class="s2" x="478" y="89.5">122870</text><text class="s3" x="478" y="102.5">0.00%</text>
<text class="s1" x="718" y="76">250</text><text class="s2" x="718" y="89.5">124870</text><text class="s3" x="718" y="102.5">0.00%</text>
<text class="s1" x="958" y="76">350</text><text class="s2" x="958" y="89.5">127570</text><text class="s3" x="958" y="102.5">0.00%</text>
</g>

<g id="row109" transform="translate(31.5,4012.5)">
<rect width="720" height="61" fill="#fff"/>
<use href="#m4"/><use href="#m4" x="240"/><use href="#m4" x="480"/>
<path class="l4" d="M0 15H720M0 30H720M0 45H720"/>
<path class="bar" d="M240 0V61M480 0V61"/>
<rect class="bd" width="720" height="61"/>
<rect y="41.5" width="718" height="7" fill="#0000ff"/>
<rect y="56.5" width="718" height="7" fill="#ffa500"/>
<use href="#b"/><use href="#o"/>
<text class="tp" x="84" y="-20">♩=136</text><text class="tp" x="264" y="-20">♩=149</text><text class="tp" x="565" y="-20">♩=150</text>
<text class="mn" x="0" y="-7.5">109</text><text class="mn" x="240" y="-7.5">110</text><text class="mn" x="480" y="-7.5">111</text>
<text class="s1" x="238" y="76">146</text><text class="s2" x="238" y="89.5">128154</text><text class="s3" x="238" y="102.5">0.00%</text>
<text class="s1" x="478" y="76">96</text><text class="s2" x="478" y="89.5">128538</text><text class="s3" x="478" y="102.5">0.00%</text>
<text class="s1" x="718" y="76">96</text><text class="s2" x="718" y="89.5">128922</text><text class="s3" x="718" y="102.5">0.00%</text>
</g>
</svg>
